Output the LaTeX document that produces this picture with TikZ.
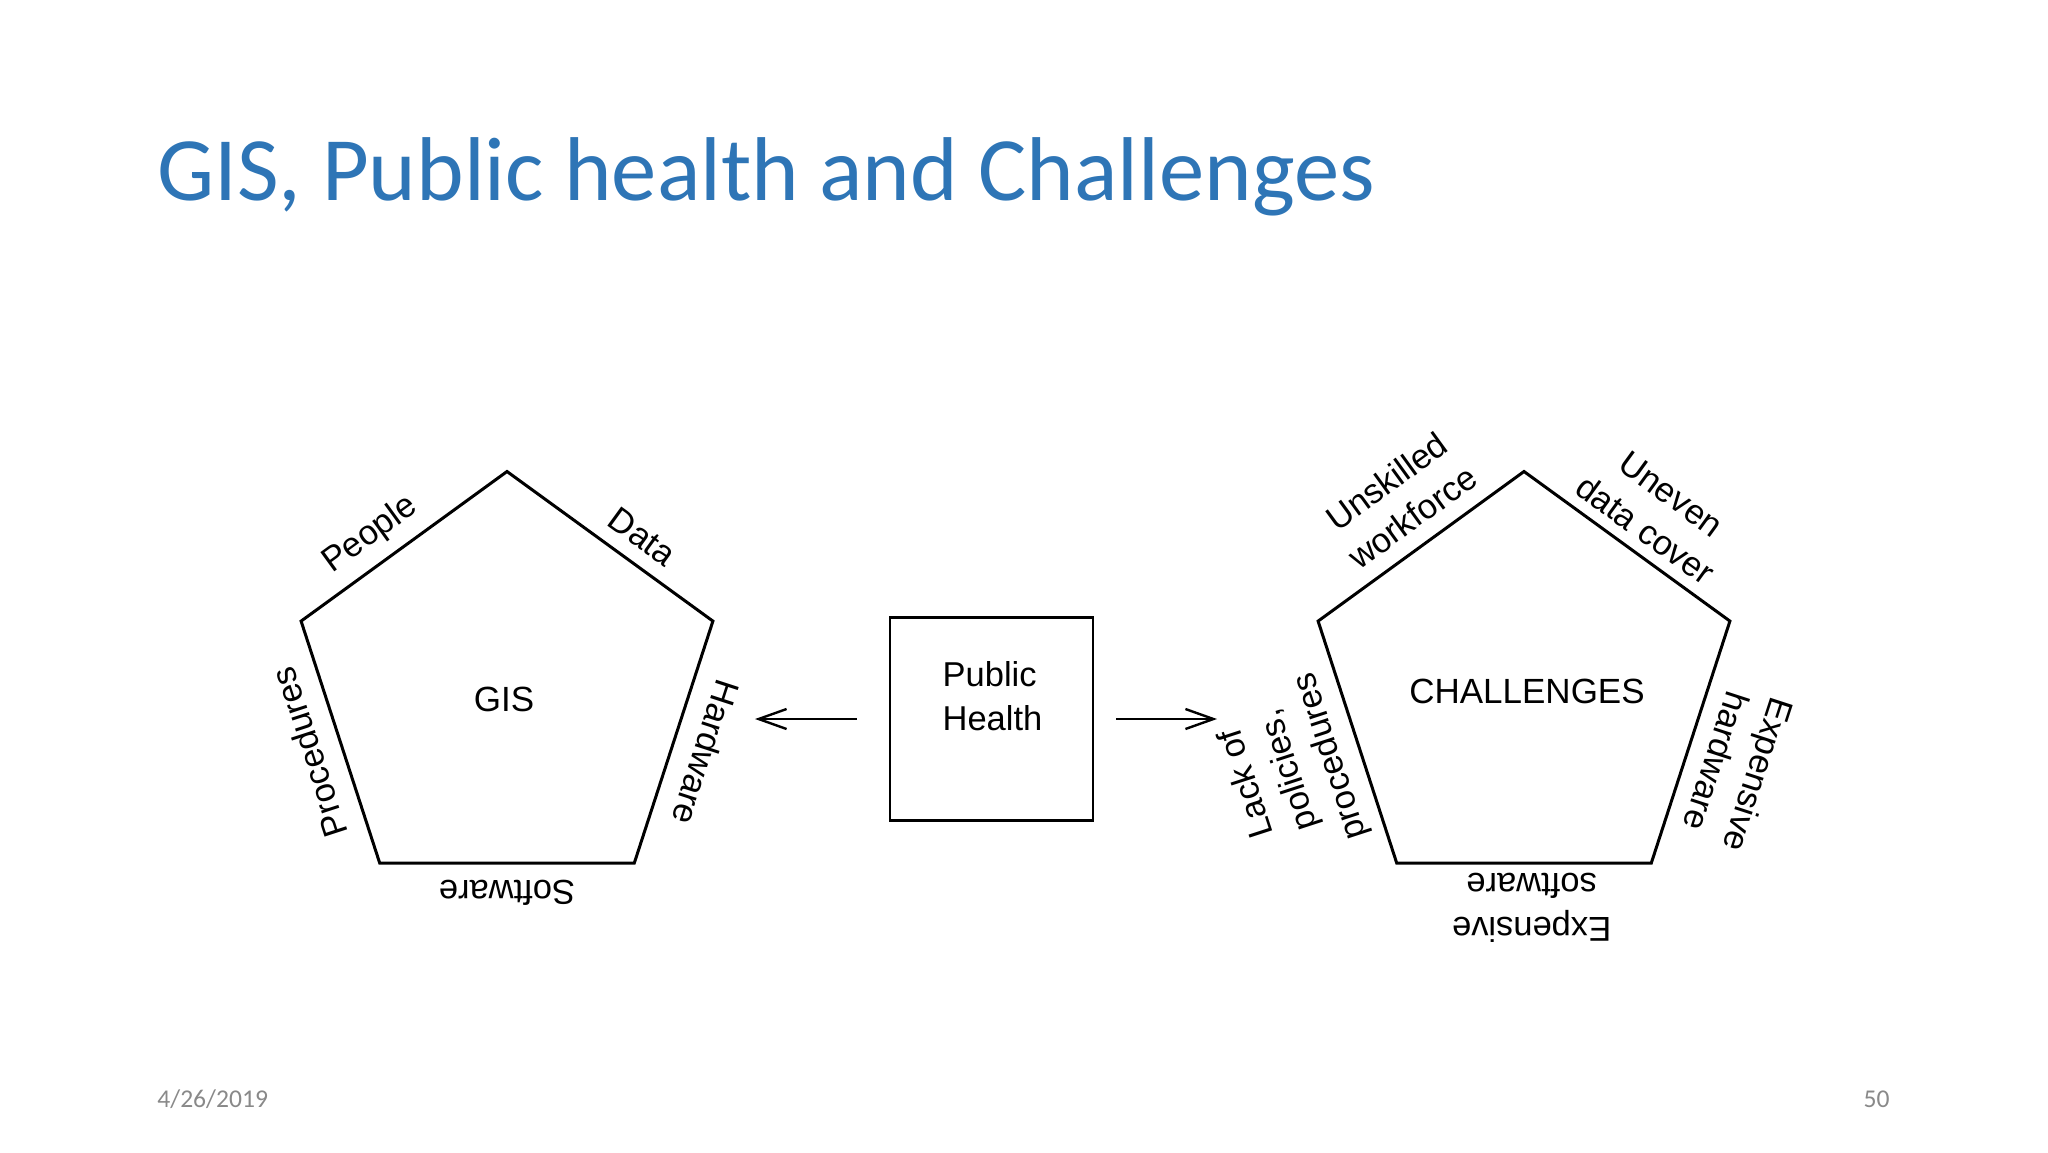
\documentclass[tikz,border=0pt]{standalone}
\usepackage{fontspec}
\usetikzlibrary{shapes.geometric,arrows.meta}
\setmainfont{Liberation Sans}
\newfontfamily\slidefont{Carlito}
\definecolor{titleblue}{HTML}{2E75B6}
\definecolor{footgray}{HTML}{898989}

\begin{document}
\begin{tikzpicture}[x=0.5pt,y=-0.5pt,
   penta/.style={regular polygon,regular polygon sides=5,draw,line width=1.5pt,
     minimum size=216.5pt,inner sep=0pt,outer sep=0pt},
   figtext/.style={font=\fontsize{17.5}{22}\selectfont},
   edgelbl/.style={sloped,allow upside down,anchor=center,align=center,
     font=\fontsize{17.25}{22}\selectfont},
   arr/.style={line width=1.2pt,-{Straight Barb[length=14pt,width=10pt]}}]
   \useasboundingbox (0,0) rectangle (2048,1152);
   \node[anchor=base west,inner sep=0pt,text=titleblue,
     font=\slidefont\fontsize{45.3}{54}\selectfont] (title) at (157,200)
     {GIS, Public health and Challenges};
   % the two pentagons
   \node[penta] (gis) at (507,688) {};
   \node[figtext] (gistext) at (504,699) {GIS};
   \node[penta] (chal) at (1524,688) {};
   \node[figtext] (chaltext) at (1527,691) {CHALLENGES};
   \foreach \s/\e/\t/\p/\d in
     {1/5/Data/.58/13.5,
      5/4/Hardware/.5/17,
      4/3/Software/.5/15,
      3/2/Procedures/.5/16.5,
      2/1/People/.42/14.5
     }
     \path (gis.corner \s) -- (gis.corner \e) node[edgelbl,pos=\p,yshift=\d pt] (gl\s) {\t};
   \foreach \s/\e/\t/\p/\d in
     {1/5/{Uneven\\data cover}/.52/23,
      5/4/{Expensive\\hardware}/.54/26.5,
      4/3/{Expensive\\software}/.47/22.5,
      3/2/{Lack of\\policies,\\procedures}/.48/36.5,
      2/1/{Unskilled\\workforce}/.54/25.5
     }
     \path (chal.corner \s) -- (chal.corner \e) node[edgelbl,pos=\p,yshift=\d pt] (cl\s) {\t};
   % public health box and arrows
   \node[draw,line width=1.4pt,minimum size=101.5pt,inner sep=0pt] (ph) at (991.5,719) {};
   \node[align=left,font=\fontsize{17.25}{22}\selectfont] (phtext) at (992.5,696.5) {Public\\Health};
   \coordinate (gtip) at (755,719);
   \coordinate (ctip) at (1217,719);
   \draw[arr,shorten <=16pt] (ph.west) -- (gtip);
   \draw[arr,shorten <=11pt] (ph.east) -- (ctip);
   % footer
   \node[anchor=base west,inner sep=0pt,text=footgray,
     font=\slidefont\fontsize{12.8}{15}\selectfont] (date) at (157,1107) {4/26/2019};
   \node[anchor=base east,inner sep=0pt,text=footgray,
     font=\slidefont\fontsize{12.8}{15}\selectfont] (page) at (1890,1107) {50};
\end{tikzpicture}
\end{document}
